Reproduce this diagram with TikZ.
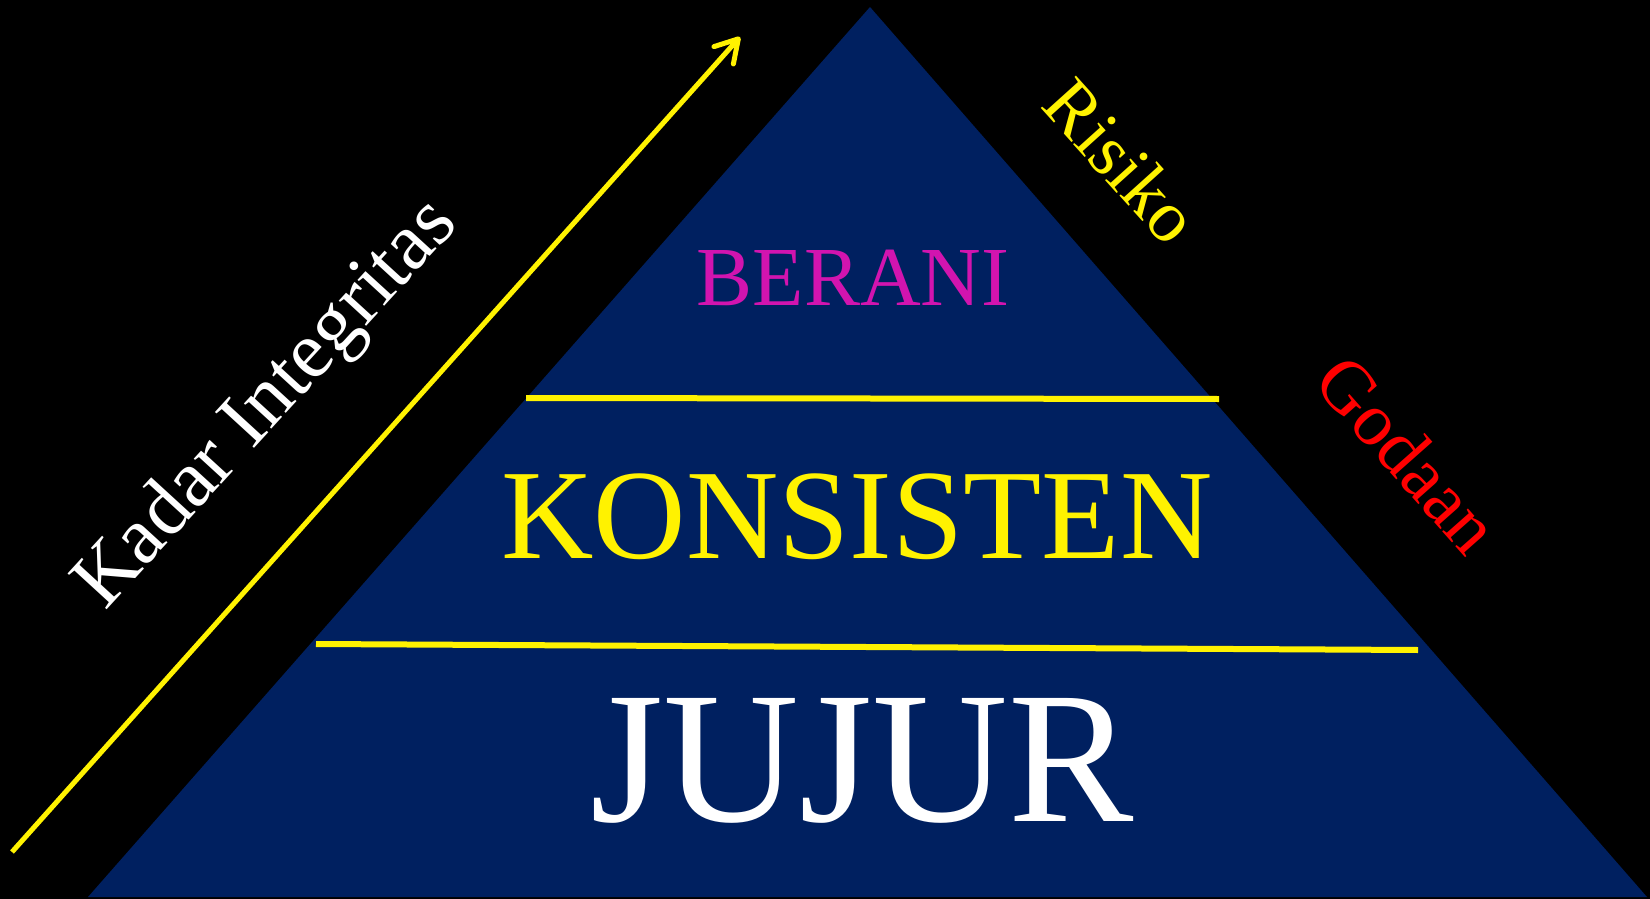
\documentclass[tikz,border=0pt]{standalone}
\usepackage{fontspec}
\setmainfont{Liberation Serif}
\usetikzlibrary{arrows.meta}
\definecolor{navy}{RGB}{0,32,96}
\definecolor{berani}{RGB}{210,20,175}

\begin{document}
\begin{tikzpicture}[x=1pt,y=-1pt,
    sepline/.style={yellow,line width=6pt},
    level/.style={anchor=base,inner sep=0pt},
    side/.style={inner sep=0pt}]
    % Background
    \path[use as bounding box,fill=black] (0,0) rectangle (1650,899);

    % Pyramid
    \coordinate (apex) at (870,7);
    \coordinate (baseL) at (88,897);
    \coordinate (baseR) at (1647,897);
    \fill[navy] (apex) -- (baseL) -- (baseR) -- cycle;

    % Separators
    \coordinate (sepAL) at (526,398);
    \coordinate (sepAR) at (1219,399);
    \coordinate (sepBL) at (316,644);
    \coordinate (sepBR) at (1418,650);
    \draw[sepline] (sepAL) -- (sepAR);
    \draw[sepline] (sepBL) -- (sepBR);

    % Levels
    \node[level,text=berani,font=\fontsize{84}{84}\selectfont] (berani) at (853,305) {BERANI};
    \node[level,text=yellow,font=\fontsize{128}{128}\selectfont] (konsisten) at (857,558) {KONSISTEN};
    \node[level,text=white,font=\fontsize{188}{188}\selectfont] (jujur) at (862,821) {JUJUR};

    % Arrow
    \coordinate (arrowtail) at (12,852);
    \coordinate (arrowtip) at (740,37);
    \draw[yellow,line width=5pt,-{Straight Barb[length=22pt,width=26pt,round]}] (arrowtail) -- (arrowtip);

    % Side labels
    \node[side,text=white,rotate=47.5,font=\fontsize{81}{81}\selectfont] (kadar) at (268,405) {Kadar Integritas};
    \node[side,text=yellow,rotate=-48,font=\fontsize{73}{73}\selectfont] (risiko) at (1122,161) {Risiko};
    \node[side,text=red,rotate=-48.5,font=\fontsize{75}{75}\selectfont] (godaan) at (1408,454) {Godaan};
\end{tikzpicture}
\end{document}
